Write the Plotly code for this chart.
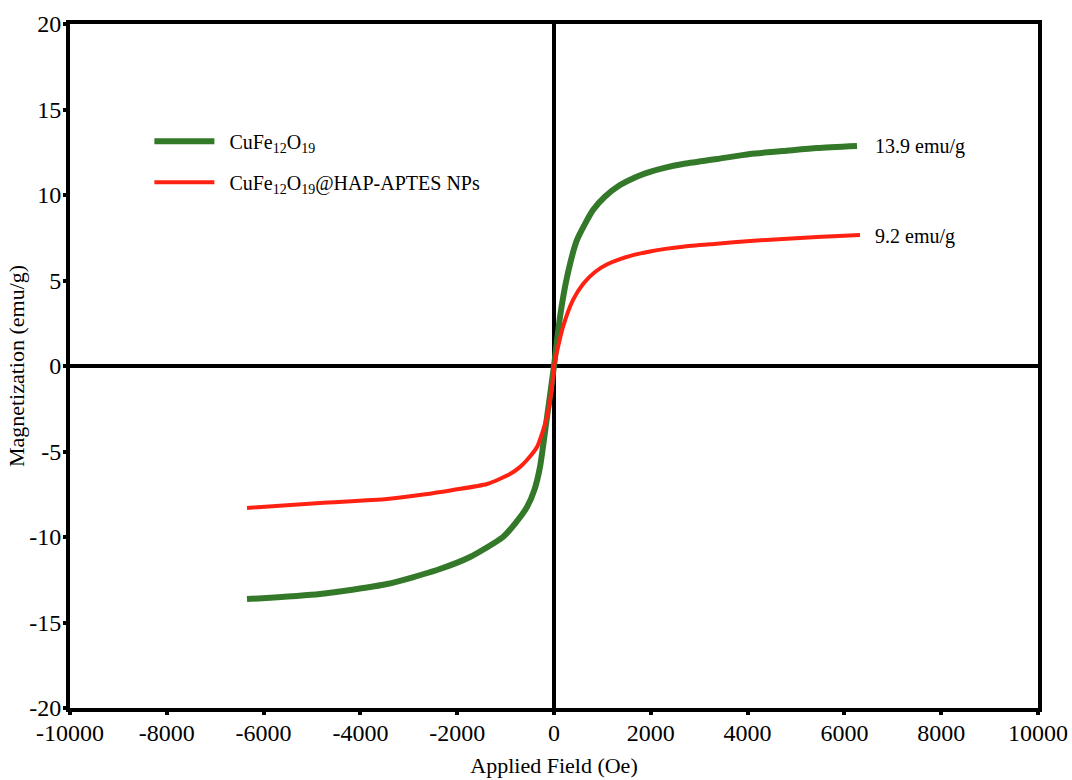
import plotly.graph_objects as go

# Applied field (Oe) and magnetization (emu/g)
field_cufe = [-6343, -4834, -3450, -2417, -1735, -1054, -800, -558, -400, -289, -145, 0,
              124, 269, 475, 806, 1050, 1364, 1650, 1983, 2300, 2665, 3368, 4049, 4731, 5434, 6260]
mag_cufe = [-13.63, -13.33, -12.75, -11.93, -11.17, -10.0, -9.2, -8.25, -7.2, -5.9, -3.0, 0.0,
            2.87, 5.2, 7.37, 9.12, 9.9, 10.58, 11.0, 11.35, 11.6, 11.81, 12.1, 12.4, 12.57, 12.75, 12.87]

field_hap = [-6343, -4834, -3450, -2700, -2087, -1384, -909, -700, -558, -351, -145, -41, 0,
             186, 393, 600, 847, 1100, 1364, 1650, 1983, 2300, 2665, 3368, 4049, 4731, 5434, 6322]
mag_hap = [-8.30, -8.01, -7.78, -7.52, -7.25, -6.9, -6.32, -5.9, -5.5, -4.74, -2.98, -1.23, 0.0,
           2.28, 3.86, 4.8, 5.5, 5.95, 6.25, 6.5, 6.7, 6.85, 6.98, 7.15, 7.31, 7.43, 7.54, 7.66]

x_ticks = [-10000, -8000, -6000, -4000, -2000, 0, 2000, 4000, 6000, 8000, 10000]
x_tick_text = ["-10000", "-8000", "-6000", "-4000", "-2000", "0", "2000", "4000", "6000", "8000", "10000"]
y_ticks = [-20, -15, -10, -5, 0, 5, 10, 15, 20]
y_tick_text = ["-20", "-15", "-10", "-5", "0", "5", "10", "15", "20"]

sat_labels = ["13.9 emu/g", "9.2 emu/g"]
sat_label_pos = [(6600, 12.85), (6600, 7.55)]

series_names = ["\u00a0\u00a0CuFe<sub>12</sub>O<sub>19</sub>",
                "\u00a0\u00a0CuFe<sub>12</sub>O<sub>19</sub>@HAP-APTES NPs"]

FONT = "Liberation Serif, Times New Roman, serif"

fig = go.Figure()
fig.add_trace(go.Scatter(
    x=field_cufe, y=mag_cufe, mode="lines",
    line=dict(color="#34792A", width=6, shape="spline", smoothing=0.6),
    name=series_names[0], legendgroup="a"))
fig.add_trace(go.Scatter(
    x=field_hap, y=mag_hap, mode="lines",
    line=dict(color="#FF2212", width=4, shape="spline", smoothing=0.6),
    name=series_names[1], legendgroup="b"))

for txt, (xx, yy) in zip(sat_labels, sat_label_pos):
    fig.add_annotation(x=xx, y=yy, text=txt, showarrow=False, xanchor="left",
                       yanchor="middle", font=dict(family=FONT, size=20, color="black"))

axis_common = dict(
    showline=True, linewidth=4, linecolor="black", mirror=True,
    showgrid=False, zeroline=True, zerolinewidth=4, zerolinecolor="black",
    ticks="outside", ticklen=3, tickwidth=4, tickcolor="black",
    tickfont=dict(family=FONT, size=24, color="black"),
    automargin=False,
)

fig.update_xaxes(range=[-10000, 10000], tickvals=x_ticks, ticktext=x_tick_text,
                 ticklabelstandoff=-3,
                 title=dict(text="Applied Field (Oe)", font=dict(family=FONT, size=22, color="black"), standoff=14),
                 **axis_common)
fig.update_yaxes(range=[-20, 20], tickvals=y_ticks, ticktext=y_tick_text,
                 ticklabelstandoff=-3,
                 title=dict(text="Magnetization (emu/g)", font=dict(family=FONT, size=22, color="black"), standoff=0),
                 **axis_common)

fig.update_layout(
    width=1072, height=780,
    margin=dict(l=70, r=34, t=24, b=72),
    plot_bgcolor="white", paper_bgcolor="white",
    showlegend=True,
    legend=dict(x=0.082, y=0.857, xanchor="left", yanchor="top",
                font=dict(family=FONT, size=20, color="black"),
                itemwidth=60, tracegroupgap=12, bgcolor="rgba(0,0,0,0)"),
)

fig.write_html("out.html")
